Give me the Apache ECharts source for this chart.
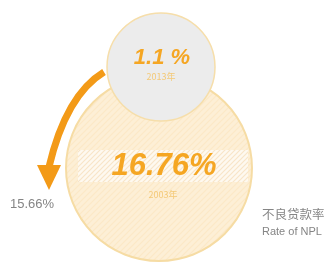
<!DOCTYPE html>
<html>
<head>
<meta charset="utf-8">
<script src="https://cdn.jsdelivr.net/npm/echarts@6/dist/echarts.min.js"></script>
<style>
  html, body { margin: 0; padding: 0; background: #fff; }
  #main { width: 329px; height: 267px; }
</style>
</head>
<body>
<div id="main"></div>
<script>
// 不良贷款率 figures
const years = ['2003年', '2013年'];
const rates = [16.76, 1.1];
const drop = [15.66];
const labelLines = ['不良贷款率', 'Rate of NPL'];

const orange = '#f5a623';

// diagonal stripe pattern
function stripes(bg, line, step) {
    const c = document.createElement('canvas');
    c.width = step; c.height = step;
    const ctx = c.getContext('2d');
    ctx.fillStyle = bg;
    ctx.fillRect(0, 0, step, step);
    ctx.strokeStyle = line;
    ctx.lineWidth = 1.2;
    ctx.beginPath();
    ctx.moveTo(0, step); ctx.lineTo(step, 0);
    ctx.moveTo(-step / 2, step / 2); ctx.lineTo(step / 2, -step / 2);
    ctx.moveTo(step / 2, step * 1.5); ctx.lineTo(step * 1.5, step / 2);
    ctx.stroke();
    return c;
}

let chart = echarts.init(document.getElementById('main'));

chart.setOption({
    animation: false,
    graphic: [
        // big circle (2003)
        {
            type: 'circle',
            shape: {cx: 159, cy: 168, r: 93},
            style: {
                fill: {image: stripes('#fdefd6', '#fce8c6', 6), repeat: 'repeat'},
                stroke: '#f6dca4',
                lineWidth: 2
            },
            z: 1
        },
        // hatched band behind the big number
        {
            type: 'rect',
            shape: {x: 78, y: 150, width: 170, height: 32},
            style: {
                fill: {image: stripes('#fef9f0', '#f8e5c8', 5), repeat: 'repeat'}
            },
            z: 2
        },
        // small circle (2013)
        {
            type: 'circle',
            shape: {cx: 161, cy: 67, r: 54},
            style: {fill: '#ececec', stroke: '#f6deaa', lineWidth: 1.5},
            z: 3
        },
        // arrow shaft
        {
            type: 'bezierCurve',
            shape: {x1: 104, y1: 72, cpx1: 66, cpy1: 95, x2: 49, y2: 167},
            style: {stroke: '#f39a17', lineWidth: 7, fill: null},
            z: 4
        },
        // arrow head
        {
            type: 'polygon',
            shape: {points: [[37, 165], [61, 165], [49, 190]]},
            style: {fill: '#f39a17'},
            z: 4
        },
        {
            type: 'text',
            x: 162, y: 58,
            style: {
                text: rates[1] + ' %',
                fill: orange,
                font: 'italic bold 22px "Liberation Sans", Arial, sans-serif',
                align: 'center', verticalAlign: 'middle'
            },
            z: 5
        },
        {
            type: 'text',
            x: 161, y: 77,
            style: {
                text: years[1],
                fill: '#f4c977',
                font: '9px "Noto Sans CJK SC", sans-serif',
                align: 'center', verticalAlign: 'middle'
            },
            z: 5
        },
        {
            type: 'text',
            x: 164, y: 166,
            style: {
                text: rates[0] + '%',
                fill: orange,
                font: 'italic bold 31px "Liberation Sans", Arial, sans-serif',
                align: 'center', verticalAlign: 'middle'
            },
            z: 5
        },
        {
            type: 'text',
            x: 163, y: 195,
            style: {
                text: years[0],
                fill: '#f4c977',
                font: '9px "Noto Sans CJK SC", sans-serif',
                align: 'center', verticalAlign: 'middle'
            },
            z: 5
        },
        {
            type: 'text',
            x: 10, y: 204,
            style: {
                text: drop[0] + '%',
                fill: '#858585',
                font: '13px "Liberation Sans", Arial, sans-serif',
                align: 'left', verticalAlign: 'middle'
            },
            z: 5
        },
        {
            type: 'text',
            x: 262, y: 214,
            style: {
                text: labelLines[0],
                fill: '#858585',
                font: '12.5px "Noto Sans CJK SC", sans-serif',
                align: 'left', verticalAlign: 'middle'
            },
            z: 5
        },
        {
            type: 'text',
            x: 262, y: 232,
            style: {
                text: labelLines[1],
                fill: '#858585',
                font: '11px "Liberation Sans", Arial, sans-serif',
                align: 'left', verticalAlign: 'middle'
            },
            z: 5
        }
    ]
});
</script>
</body>
</html>
